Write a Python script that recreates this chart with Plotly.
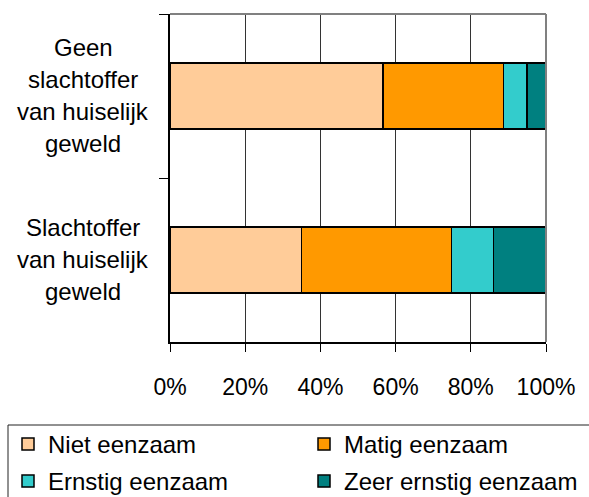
import plotly.graph_objects as go

# Data
label_lines = [
    ["Geen", "slachtoffer", "van huiselijk", "geweld"],
    ["Slachtoffer", "van huiselijk", "geweld"],
]
categories = [" ".join(l) for l in label_lines]
series_names = ["Niet eenzaam", "Matig eenzaam", "Ernstig eenzaam", "Zeer ernstig eenzaam"]
niet = [56.7, 35.0]
matig = [32.0, 39.9]
ernstig = [6.3, 11.2]
zeer = [5.0, 13.9]
series_values = [niet, matig, ernstig, zeer]
colors = ["#FFCC99", "#FF9900", "#33CCCC", "#008080"]
legend_rows = ["legend", "legend", "legend2", "legend2"]
x_ticks = [0, 20, 40, 60, 80, 100]

FONT = "Liberation Sans, Arial, sans-serif"
W, H = 589, 497
ML, MT, MB = 170, 14, 155
PLOT_R = 546
GS_W = W - ML  # plotting region (margin r = 0); x axis uses a sub-domain
dom_end = (PLOT_R - ML) / GS_W
PH = H - MT - MB


def px_x(px):
    return (px - ML) / GS_W


def px_y(py):
    return (H - MB - py) / PH


fig = go.Figure()
for name, vals, col, lg in zip(series_names, series_values, colors, legend_rows):
    fig.add_trace(go.Bar(
        y=categories, x=vals, name=name, orientation="h",
        marker=dict(color=col, line=dict(color="black", width=1.5)),
        width=0.4, legend=lg,
    ))

annotations = []
for cat, lines in zip(categories, label_lines):
    n = len(lines)
    for i, line in enumerate(lines):
        annotations.append(dict(
            x=px_x(83), xref="paper", y=cat, yref="y",
            text=line, showarrow=False, xanchor="center", yanchor="middle",
            yshift=-(i - (n - 1) / 2) * 32 + 1,
            font=dict(family=FONT, size=24, color="black"),
        ))

legend_common = dict(
    orientation="h", traceorder="normal", xanchor="left", yanchor="top",
    entrywidth=251, entrywidthmode="pixels", borderwidth=0,
    bgcolor="rgba(0,0,0,0)",
    font=dict(family=FONT, size=24, color="black"),
)

fig.update_layout(
    barmode="stack",
    width=W, height=H,
    margin=dict(l=ML, r=0, t=MT, b=MB, autoexpand=False),
    plot_bgcolor="white", paper_bgcolor="white",
    font=dict(family=FONT, size=23, color="black"),
    annotations=annotations,
    showlegend=True,
    legend=dict(x=px_x(8), y=px_y(422), **legend_common),
    legend2=dict(x=px_x(8), y=px_y(459), **legend_common),
    shapes=[
        dict(type="line", xref="x domain", yref="y domain", x0=0, x1=1, y0=1, y1=1,
             line=dict(color="#808080", width=2)),
        dict(type="line", xref="x domain", yref="y domain", x0=1, x1=1, y0=0, y1=1,
             line=dict(color="#808080", width=2)),
        dict(type="rect", xref="paper", yref="paper",
             x0=px_x(8), x1=px_x(620), y0=px_y(425), y1=px_y(540),
             line=dict(color="#222222", width=1), fillcolor="rgba(0,0,0,0)"),
    ],
)
fig.update_xaxes(
    domain=[0, dom_end],
    range=[0, 100], tickvals=x_ticks, ticktext=[f"{v}%" for v in x_ticks],
    showgrid=True, gridcolor="#333333", gridwidth=1,
    showline=True, linecolor="black", linewidth=1.5,
    ticks="outside", ticklen=8, tickcolor="black",
    ticklabelstandoff=16, zeroline=False,
    tickfont=dict(family=FONT, size=23, color="black"),
)
fig.update_yaxes(
    autorange="reversed", showticklabels=False, tickson="boundaries",
    ticks="outside", ticklen=9, tickcolor="black",
    showline=True, linecolor="black", linewidth=1.5, showgrid=False,
)
fig.write_html("out.html", config={"displayModeBar": False},
               post_script="document.body.style.margin='0px';")
